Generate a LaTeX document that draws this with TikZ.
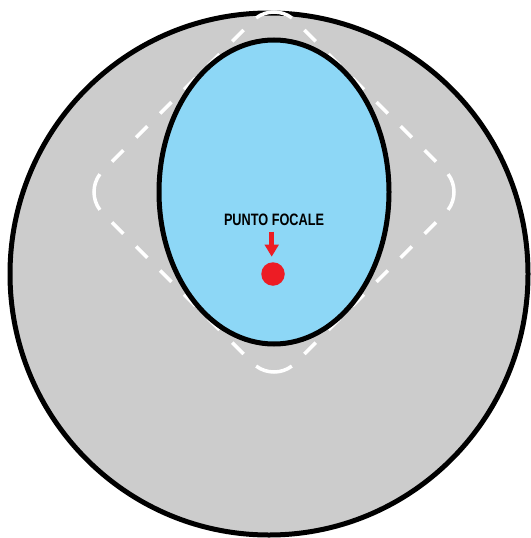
\documentclass[tikz,border=0pt]{standalone}
\usepackage{fontspec}
\setmainfont{Liberation Sans}
\usetikzlibrary{arrows.meta}
\definecolor{bggray}{HTML}{CCCCCC}
\definecolor{skyfill}{HTML}{8DD7F6}
\definecolor{focusred}{HTML}{ED1C24}
\begin{document}
\begin{tikzpicture}[x=1pt,y=-1pt,
  outline/.style={draw=black, line width=5pt},
  whitedash/.style={draw=white, line width=3.5pt},
  sidedash/.style={whitedash, dash pattern=on 16pt off 18pt, dash phase=21pt},
  focuslabel/.style={font=\bfseries\fontsize{16.5}{18}\selectfont, inner sep=0pt, anchor=base},
  focusdot/.style={circle, fill=focusred, minimum size=23.5pt, inner sep=0pt}]
\useasboundingbox (0,0) rectangle (530,538);
% outer disc
\draw[outline, fill=bggray] (269,274) ellipse [x radius=259, y radius=261];
% dashed rounded diamond
\begin{scope}[shift={(274,192)}, rotate=45]
  \foreach \c in {45,135,225,315} {
    \draw[whitedash] ({150*cos(\c)+30*cos(\c-36.5)},{150*sin(\c)+30*sin(\c-36.5)})
      arc[start angle=\c-36.5, end angle=\c+36.5, radius=30];
  }
  \draw[sidedash] (-106,136) -- (106,136);
  \draw[sidedash] (136,106) -- (136,-106);
  \draw[sidedash] (106,-136) -- (-106,-136);
  \draw[sidedash] (-136,-106) -- (-136,106);
\end{scope}
% inner ellipse
\draw[outline, fill=skyfill] (274,192) ellipse [x radius=115, y radius=152];
% label, arrow, focal point
\node[focuslabel] (lbl) at (274,225) {\scalebox{0.77}[1]{PUNTO FOCALE}};
\node[focusdot] (dot) at (273,274) {};
\coordinate (arrTop) at (271.7,231.7);
\coordinate (arrTip) at (271.7,256.7);
\draw[focusred, line width=4.5pt, -{Triangle[length=12pt,width=13.5pt]}] (arrTop) -- (arrTip);
\end{tikzpicture}
\end{document}
